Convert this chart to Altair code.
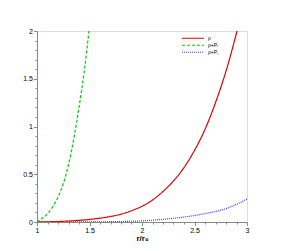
import altair as alt
import pandas as pd

# --- data ---
rho_x = [1.0, 1.1, 1.2, 1.3, 1.4, 1.5, 1.6, 1.7, 1.8, 1.9, 2.0, 2.1, 2.2, 2.3, 2.4, 2.5, 2.6, 2.7, 2.8, 2.9, 3.0]
rho_y = [0.0, 0.002, 0.005, 0.01, 0.017, 0.027, 0.04, 0.058, 0.082, 0.118, 0.165, 0.23, 0.32, 0.43, 0.57, 0.75, 0.97, 1.25, 1.58, 1.98, 2.45]

rpr_x = [1.0, 1.05, 1.1, 1.15, 1.2, 1.25, 1.3, 1.35, 1.4, 1.45, 1.5]
rpr_y = [0.0, 0.04, 0.085, 0.16, 0.26, 0.4, 0.6, 0.87, 1.2, 1.58, 2.05]

rpt_x = [1.0, 1.2, 1.4, 1.6, 1.8, 2.0, 2.2, 2.4, 2.6, 2.8, 2.9, 3.0]
rpt_y = [0.0, 0.0, 0.001, 0.002, 0.005, 0.012, 0.028, 0.052, 0.088, 0.14, 0.185, 0.24]

series_names = ["ρ", "ρ+Pᵣ", "ρ+Pₜ"]
series_colors = ["#e00000", "#00cc00", "#3a3aff"]
series_dash = [[1, 0], [3, 2], [1, 1]]

x_major = [1, 1.5, 2, 2.5, 3]
x_minor = [round(1 + 0.1 * i, 2) for i in range(21) if i % 5 != 0]
y_major = [0, 0.5, 1, 1.5, 2]
y_minor = [round(0.1 * i, 2) for i in range(21) if i % 5 != 0]

rows = []
for name, xs, ys in zip(series_names, [rho_x, rpr_x, rpt_x], [rho_y, rpr_y, rpt_y]):
    for xv, yv in zip(xs, ys):
        rows.append({"series": name, "x": xv, "y": yv})
df = pd.DataFrame(rows)

FONT = "Liberation Sans"
xscale = alt.Scale(domain=[1, 3], nice=False, zero=False)
yscale = alt.Scale(domain=[0, 2], nice=False)

legend = alt.Legend(orient="none", legendX=144, legendY=4, title=None,
                    symbolType="stroke", symbolSize=480, clipHeight=6.5,
                    symbolStrokeWidth=1.2, labelFontSize=5,
                    labelFont=FONT, rowPadding=0, labelOffset=3)

main = alt.Chart(df).mark_line(clip=True, strokeWidth=1.2, interpolate="monotone").encode(
    x=alt.X("x:Q", scale=xscale,
            axis=alt.Axis(orient="bottom", values=x_major, title="r/r₀", tickSize=3.5,
                          labelFontSize=7, labelPadding=1, titleFontSize=8,
                          titleFontWeight="bold", titlePadding=1, grid=False,
                          labelFlush=False, format="~g")),
    y=alt.Y("y:Q", scale=yscale,
            axis=alt.Axis(orient="left", values=y_major, title=None, tickSize=3.5,
                          labelFontSize=7, labelPadding=1, grid=False, format="~g")),
    color=alt.Color("series:N", sort=series_names,
                    scale=alt.Scale(domain=series_names, range=series_colors),
                    legend=legend),
    strokeDash=alt.StrokeDash("series:N", sort=series_names,
                              scale=alt.Scale(domain=series_names, range=series_dash),
                              legend=legend),
)

minor = alt.Chart(df).mark_line(opacity=0).encode(
    x=alt.X("x:Q", scale=xscale,
            axis=alt.Axis(orient="bottom", values=x_minor, labels=False, title=None,
                          tickSize=2, domain=False, grid=False)),
    y=alt.Y("y:Q", scale=yscale,
            axis=alt.Axis(orient="left", values=y_minor, labels=False, title=None,
                          tickSize=2, domain=False, grid=False)),
)

chart = alt.layer(main, minor).resolve_axis(x="independent", y="independent").properties(
    width=210, height=191,
    autosize=alt.AutoSizeParams(type="none"),
    padding={"left": 29, "top": 23, "right": 26, "bottom": 20},
).configure_view(stroke="#000000", strokeWidth=1.2).configure_axis(
    domainColor="#000000", tickColor="#000000", labelColor="#000000",
    titleColor="#000000", labelFont=FONT, titleFont=FONT, domainWidth=1.2, tickWidth=1,
).configure(background="white")

chart.save("out.html", embed_options={"renderer": "svg", "actions": False})
